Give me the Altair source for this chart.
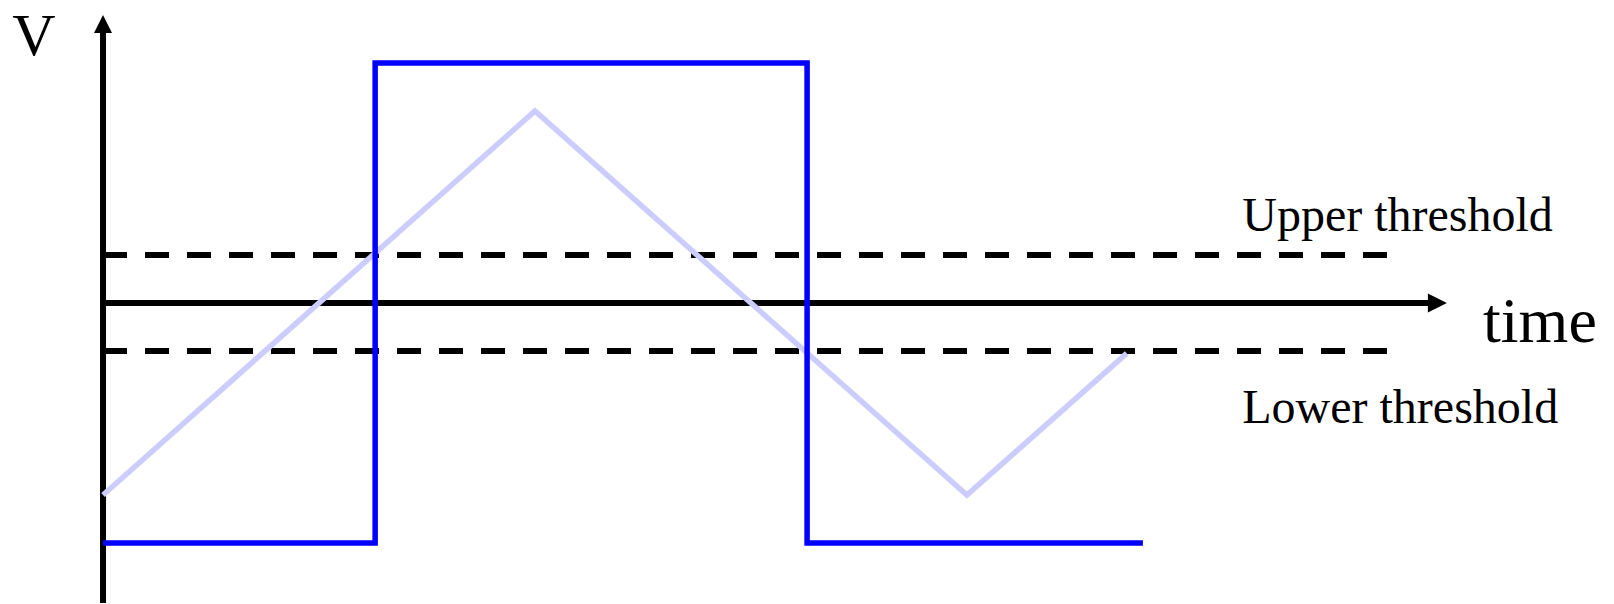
import altair as alt
import pandas as pd

# ---- data (time units, voltage units) ----
square_t = [0.0, 2.52, 2.52, 6.52, 6.52, 9.63]
square_v = [-1.0, -1.0, 1.0, 1.0, -1.0, -1.0]

tri_t = [0.0, 4.0, 8.0, 9.48]
tri_v = [-0.8, 0.8, -0.8, -0.21]

thresholds = [0.2, -0.2]
threshold_end = 11.89

yaxis_bottom, yaxis_head = -1.25, 1.1625
xaxis_head = 12.357

labels = ["V", "time", "Upper threshold", "Lower threshold"]
label_t = [-0.64, 12.78, 10.55, 10.55]
label_v = [1.033, -0.164, 0.3, -0.502]
label_size = [60, 64, 48, 48]
label_align = ["center", "left", "left", "left"]

X_DOMAIN = [-0.88, 13.9]
Y_DOMAIN = [-1.25, 1.229]

xs = alt.Scale(domain=X_DOMAIN, nice=False, zero=False)
ys = alt.Scale(domain=Y_DOMAIN, nice=False, zero=False)

sq = pd.DataFrame({"t": square_t, "v": square_v, "o": list(range(len(square_t)))})
tri = pd.DataFrame({"t": tri_t, "v": tri_v, "o": list(range(len(tri_t)))})
thr = pd.DataFrame({"v": thresholds, "t0": [0.0] * len(thresholds), "t1": [threshold_end] * len(thresholds)})
yax = pd.DataFrame({"t": [0.0], "v0": [yaxis_bottom], "v1": [yaxis_head]})
xax = pd.DataFrame({"v": [0.0], "t0": [0.0], "t1": [xaxis_head]})
head_up = pd.DataFrame({"t": [0.0], "v": [yaxis_head]})
head_right = pd.DataFrame({"t": [xaxis_head], "v": [0.0]})
lab = pd.DataFrame({"text": labels, "t": label_t, "v": label_v,
                    "size": label_size, "align": label_align})

X = lambda f: alt.X(f, type="quantitative", scale=xs, axis=None)
Y = lambda f: alt.Y(f, type="quantitative", scale=ys, axis=None)

dashes = alt.Chart(thr).mark_rule(color="black", strokeWidth=6, strokeDash=[24, 18]).encode(
    x=X("t0"), x2="t1", y=Y("v"))

y_axis = alt.Chart(yax).mark_rule(color="black", strokeWidth=6).encode(
    x=X("t"), y=Y("v0"), y2="v1")
x_axis = alt.Chart(xax).mark_rule(color="black", strokeWidth=6).encode(
    x=X("t0"), x2="t1", y=Y("v"))

arrow_up = alt.Chart(head_up).mark_point(
    shape="M0,-1L-1,1L1,1Z", size=324, filled=True, color="black", opacity=1, strokeWidth=0
).encode(x=X("t"), y=Y("v"))
arrow_right = alt.Chart(head_right).mark_point(
    shape="M1,0L-1,-1L-1,1Z", size=361, filled=True, color="black", opacity=1, strokeWidth=0
).encode(x=X("t"), y=Y("v"))

triangle = alt.Chart(tri).mark_line(color="#CCCCFF", strokeWidth=5.5, strokeCap="butt",
                                    strokeJoin="miter").encode(
    x=X("t"), y=Y("v"), order="o:Q")

square = alt.Chart(sq).mark_line(color="#0000FF", strokeWidth=5.5, strokeCap="butt",
                                 strokeJoin="miter").encode(
    x=X("t"), y=Y("v"), order="o:Q")

texts = []
for sz, al in [(60, "center"), (64, "left"), (48, "left")]:
    sub = lab[(lab["size"] == sz) & (lab["align"] == al)]
    texts.append(alt.Chart(sub).mark_text(
        font="Liberation Serif", fontSize=sz, align=al, baseline="alphabetic", color="black"
    ).encode(x=X("t"), y=Y("v"), text="text:N"))

chart = alt.layer(dashes, y_axis, x_axis, arrow_up, arrow_right, triangle, square, *texts).properties(
    width=1596, height=595, padding=0, autosize=alt.AutoSizeParams(type="none")
).configure_view(stroke=None)

chart.save("out.html", embed_options={"renderer": "svg", "actions": False})
